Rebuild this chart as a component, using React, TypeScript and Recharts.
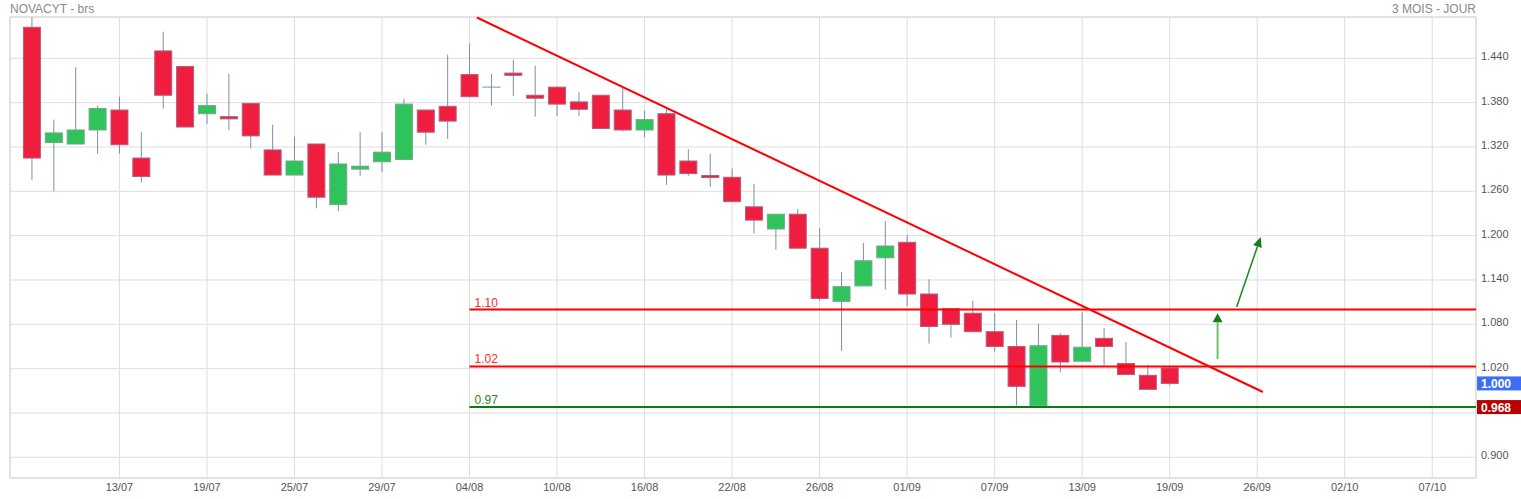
import React from 'react';
import { ComposedChart, Bar, XAxis, YAxis, CartesianGrid, ReferenceLine, ReferenceArea } from 'recharts';

const dates = [
  '07/07', '08/07', '11/07', '12/07', '13/07', '14/07', '15/07', '18/07', '19/07', '20/07',
  '21/07', '22/07', '25/07', '26/07', '27/07', '28/07', '29/07', '01/08', '02/08', '03/08',
  '04/08', '05/08', '08/08', '09/08', '10/08', '11/08', '12/08', '15/08', '16/08', '17/08',
  '18/08', '19/08', '22/08', '23/08', '24/08', '25/08', '26/08', '29/08', '30/08', '31/08',
  '01/09', '02/09', '05/09', '06/09', '07/09', '08/09', '09/09', '12/09', '13/09', '14/09',
  '15/09', '16/09', '19/09',
];
const opens = [
  1.482, 1.326, 1.324, 1.343, 1.370, 1.305, 1.450, 1.429, 1.365, 1.361,
  1.379, 1.316, 1.282, 1.324, 1.242, 1.290, 1.300, 1.303, 1.370, 1.375,
  1.418, 1.401, 1.420, 1.390, 1.401, 1.381, 1.390, 1.370, 1.343, 1.365,
  1.301, 1.281, 1.279, 1.239, 1.209, 1.229, 1.183, 1.111, 1.132, 1.170,
  1.191, 1.121, 1.101, 1.095, 1.070, 1.050, 0.970, 1.065, 1.030, 1.061,
  1.027, 1.011, 1.021,
];
const highs = [
  1.4955, 1.357, 1.428, 1.376, 1.388, 1.340, 1.476, 1.429, 1.392, 1.419,
  1.379, 1.350, 1.334, 1.324, 1.313, 1.340, 1.340, 1.385, 1.370, 1.445,
  1.460, 1.419, 1.438, 1.430, 1.401, 1.394, 1.390, 1.400, 1.369, 1.372,
  1.317, 1.311, 1.291, 1.270, 1.229, 1.236, 1.210, 1.151, 1.190, 1.220,
  1.201, 1.141, 1.101, 1.112, 1.095, 1.086, 1.081, 1.068, 1.096, 1.075,
  1.056, 1.025, 1.021,
];
const lows = [
  1.275, 1.260, 1.324, 1.311, 1.311, 1.272, 1.372, 1.347, 1.351, 1.343,
  1.318, 1.282, 1.282, 1.237, 1.233, 1.281, 1.286, 1.303, 1.323, 1.331,
  1.388, 1.376, 1.389, 1.361, 1.362, 1.362, 1.345, 1.341, 1.333, 1.269,
  1.281, 1.266, 1.246, 1.203, 1.181, 1.183, 1.112, 1.044, 1.132, 1.127,
  1.105, 1.054, 1.062, 1.070, 1.043, 0.970, 0.970, 1.015, 1.030, 1.025,
  1.012, 0.992, 0.997,
];
const closes = [
  1.305, 1.339, 1.343, 1.372, 1.323, 1.280, 1.390, 1.347, 1.376, 1.358,
  1.335, 1.282, 1.301, 1.252, 1.297, 1.294, 1.313, 1.378, 1.340, 1.355,
  1.388, 1.401, 1.417, 1.386, 1.378, 1.371, 1.345, 1.343, 1.357, 1.282,
  1.284, 1.279, 1.246, 1.221, 1.229, 1.183, 1.115, 1.131, 1.166, 1.186,
  1.121, 1.077, 1.080, 1.070, 1.050, 0.996, 1.051, 1.029, 1.049, 1.050,
  1.012, 0.992, 1.000,
];

const xTickIndex = [4, 8, 12, 16, 20, 24, 28, 32, 36, 40, 44, 48, 52, 56, 60, 64];
const xTickLabels = ['13/07', '19/07', '25/07', '29/07', '04/08', '10/08', '16/08', '22/08', '26/08', '01/09', '07/09', '13/09', '19/09', '26/09', '02/10', '07/10'];
const yTicks = [0.9, 0.96, 1.02, 1.08, 1.14, 1.2, 1.26, 1.32, 1.38, 1.44];
const xDomain = [-1, 66];
const yDomain = [0.872, 1.4959];

const levelValues = [1.1, 1.023, 0.968];
const levelLabels = ['1.10', '1.02', '0.97'];
const levelColors = ['#ff0000', '#ff0000', '#0a7d0a'];
const levelLabelColors = ['#ff2a2a', '#ff2a2a', '#1f8a1f'];
const levelStart = 20;

const trendLine = [{ x: 20.34, y: 1.4952 }, { x: 56.26, y: 0.9884 }];
const upArrow = [{ x: 54.19, y: 1.033 }, { x: 54.19, y: 1.0949 }];
const diagArrow = [{ x: 55.06, y: 1.1035 }, { x: 56.16, y: 1.1982 }];

const lastPrice = closes[closes.length - 1];
const tagValues = [lastPrice, levelValues[2]];
const tagLabels = ['1.000', '0.968'];
const tagColors = ['#3d6ff2', '#b80000'];

const data = dates.map((d, i) => ({
  i,
  date: d,
  open: opens[i],
  high: highs[i],
  low: lows[i],
  close: closes[i],
  range: [lows[i], highs[i]],
}));

const FONT = '"Liberation Sans", Arial, sans-serif';
const WICK = '#7b90aa';

const Candle = (props: any) => {
  let { x, y, width, height } = props;
  const p = props.payload || props;
  if (height < 0) {
    y = y + height;
    height = -height;
  }
  const { open, close, high, low } = p;
  const k = height / (high - low);
  const yO = y + (high - open) * k;
  const yC = y + (high - close) * k;
  const cx = x + width / 2;
  const up = close >= open;
  let top = Math.min(yO, yC);
  let h = Math.abs(yO - yC);
  const doji = open === close;
  if (!doji && h < 2) {
    top = (yO + yC) / 2 - 1;
    h = 2;
  }
  return (
    <g>
      <line x1={cx} x2={cx} y1={y} y2={y + height} stroke={WICK} strokeWidth={1} />
      {doji ? (
        <line x1={x} x2={x + width} y1={yO} y2={yO} stroke={WICK} strokeWidth={1} />
      ) : (
        <rect
          x={x + 0.5}
          y={top}
          width={width - 1}
          height={h}
          fill={up ? '#2ec45b' : '#f01e3e'}
          stroke={up ? '#74a88a' : '#b0607e'}
          strokeWidth={1}
        />
      )}
    </g>
  );
};

const arrowShape = (shaftColor: string, headColor: string, shaftW: number, headW: number, headL: number) => (p: any) => {
  const { x1, y1, x2, y2 } = p;
  const dx = x2 - x1;
  const dy = y2 - y1;
  const len = Math.hypot(dx, dy) || 1;
  const ux = dx / len;
  const uy = dy / len;
  const bx = x2 - ux * headL;
  const by = y2 - uy * headL;
  const nx = -uy;
  const ny = ux;
  return (
    <g>
      <line x1={x1} y1={y1} x2={bx} y2={by} stroke={shaftColor} strokeWidth={shaftW} />
      <polygon
        points={`${x2},${y2} ${bx + (nx * headW) / 2},${by + (ny * headW) / 2} ${bx - (nx * headW) / 2},${by - (ny * headW) / 2}`}
        fill={headColor}
      />
    </g>
  );
};

const XTick = (props: any) => {
  const { x, y, payload } = props;
  const idx = xTickIndex.indexOf(payload.value);
  return (
    <text x={x} y={y} dy="0.71em" textAnchor="middle" fill="#555" fontSize={11} fontFamily={FONT}>
      {idx >= 0 ? xTickLabels[idx] : ''}
    </text>
  );
};

const YTick = (props: any) => {
  const { x, y, payload } = props;
  if (Math.abs(payload.value - 0.96) < 1e-6) return <g />;
  return (
    <text x={x} y={y - 2} dy="0.355em" textAnchor="start" fill="#555" fontSize={11} fontFamily={FONT}>
      {Number(payload.value).toFixed(3)}
    </text>
  );
};

export default function App() {
  return (
    <div style={{ position: 'absolute', left: 0, top: 0, width: 1521, height: 499, background: '#fff', fontFamily: FONT }}>
      <div style={{ position: 'absolute', left: 10, top: 2, fontSize: 12, lineHeight: '14px', color: '#8a8a8a' }}>NOVACYT - brs</div>
      <div style={{ position: 'absolute', right: 45, top: 2, fontSize: 12, lineHeight: '14px', color: '#8a8a8a' }}>3 MOIS - JOUR</div>
      <ComposedChart width={1521} height={499} data={data} margin={{ top: 17, right: 0, bottom: 0, left: 10 }}>
        <CartesianGrid stroke="#dedede" strokeWidth={1} />
        <XAxis
          dataKey="i"
          type="number"
          domain={xDomain}
          ticks={xTickIndex}
          allowDataOverflow
          height={21}
          tickSize={0}
          tickMargin={5}
          tickLine={false}
          axisLine={false}
          tick={<XTick />}
          interval={0}
        />
        <YAxis
          orientation="right"
          type="number"
          domain={yDomain}
          ticks={yTicks}
          allowDataOverflow
          width={45}
          tickSize={0}
          tickMargin={5}
          tickLine={false}
          axisLine={false}
          tick={<YTick />}
          interval={0}
        />
        <ReferenceArea x1={xDomain[0]} x2={xDomain[1]} y1={yDomain[0]} y2={yDomain[1]} fill="none" stroke="#d6d6d6" strokeWidth={1} ifOverflow="visible" />
        <Bar dataKey="range" barSize={18} shape={<Candle />} isAnimationActive={false} />
        {levelValues.map((v, k) => (
          <ReferenceLine
            key={'lvl' + k}
            segment={[{ x: levelStart, y: v }, { x: xDomain[1], y: v }]}
            stroke={levelColors[k]}
            strokeWidth={2}
            ifOverflow="visible"
            label={{
              content: (lp: any) => {
                const vb = lp.viewBox || {};
                return (
                  <text x={vb.x + 5} y={vb.y - 3} fill={levelLabelColors[k]} fontSize={12} fontFamily={FONT}>
                    {levelLabels[k]}
                  </text>
                );
              },
            }}
          />
        ))}
        <ReferenceLine segment={trendLine} stroke="#ff0000" strokeWidth={2} ifOverflow="visible" />
        <ReferenceLine segment={upArrow} ifOverflow="visible" shape={arrowShape('#6fbf6f', '#118011', 2, 10, 9)} />
        <ReferenceLine segment={diagArrow} ifOverflow="visible" shape={arrowShape('#1a8a1a', '#118011', 1.5, 9, 10)} />
        {tagValues.map((v, k) => (
          <ReferenceLine
            key={'tag' + k}
            y={v}
            stroke="none"
            ifOverflow="visible"
            label={{
              content: (lp: any) => {
                const vb = lp.viewBox || {};
                const rx = vb.x + vb.width + 1;
                return (
                  <g>
                    <rect x={rx} y={vb.y - 7} width={45} height={14} fill={tagColors[k]} />
                    <text x={rx + 4} y={vb.y + 4.5} fill="#fff" fontSize={12} fontWeight="bold" fontFamily={FONT}>
                      {tagLabels[k]}
                    </text>
                  </g>
                );
              },
            }}
          />
        ))}
      </ComposedChart>
    </div>
  );
}
